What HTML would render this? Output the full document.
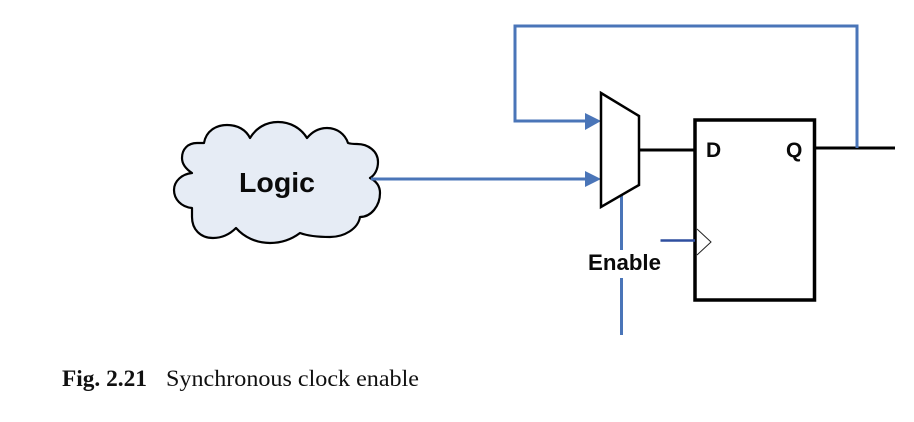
<!DOCTYPE html>
<html>
<head>
<meta charset="utf-8">
<style>
html,body{margin:0;padding:0;background:#fff;width:914px;height:422px;overflow:hidden}
svg{display:block}
.s{font-family:"Liberation Sans",sans-serif;font-weight:bold;fill:#0a0a0a}
.r{font-family:"Liberation Serif",serif;fill:#111}
</style>
</head>
<body>
<svg width="914" height="422" viewBox="0 0 914 422" xmlns="http://www.w3.org/2000/svg">
<path d="M204 143 C206 131 216 125 227 125 C238 125 246 130 250 138 C256 128 266 122 278 122 C290 122 301 128 307 138 C312 132 319 128 327 128 C337 128 345 134 348 143 C351 144 354 144 357 144 C368 144 378 151 378 162 C378 169 375 175 370 178 C376 181 380 186 380 193 C380 206 371 217 360 217 C358 229 344 237 330 237 C318 237 308 236 300 233 C292 239 282 243 270 243 C256 243 244 237 236 228 C230 234 222 238 213 238 C200 238 192 229 192 217 L192 208 C181 207 174 199 174 190 C174 181 182 174 192 173 C186 169 182 164 182 158 C182 149 188 143 197 143 C199 143 202 143 204 143 Z" fill="#e6ecf5" stroke="#000" stroke-width="2.2" stroke-linejoin="round"/>
<text class="s" x="239" y="192" font-size="27.500" textLength="76" lengthAdjust="spacingAndGlyphs">Logic</text>

<g fill="none" stroke="#4a75b8" stroke-width="3">
<path d="M857 148 V26 H515 V121 H586"/>
<path d="M371 179 H586"/>
<path d="M621.5 195 V250"/>
<path d="M621.5 278 V335"/>
</g>
<polygon points="585,113 601,121 585,130" fill="#4a75b8"/>
<polygon points="585,171 601,179 585,187" fill="#4a75b8"/>

<polygon points="601,93 639,116 639,185 601,207" fill="none" stroke="#000" stroke-width="2.500"/>
<path d="M638 150 H694" stroke="#000" stroke-width="3" fill="none"/>
<rect x="695" y="120" width="119.500" height="180" fill="#fff" stroke="#000" stroke-width="3.500"/>
<path d="M815 148 H895" stroke="#000" stroke-width="3" fill="none"/>
<path d="M857 26 V148" stroke="#4a75b8" stroke-width="3" fill="none"/>

<path d="M660.500 240.500 H695" stroke="#2f4f9f" stroke-width="2.500" fill="none"/>
<path d="M697 229 L711 242 L697 255" stroke="#222" stroke-width="1" fill="none"/>

<text class="s" x="706" y="157" font-size="21">D</text>
<text class="s" x="786" y="157" font-size="21">Q</text>
<text class="s" x="588" y="270" font-size="22" textLength="73" lengthAdjust="spacingAndGlyphs">Enable</text>

<text class="r" x="62" y="386" font-size="23" font-weight="bold" textLength="85" lengthAdjust="spacingAndGlyphs">Fig. 2.21</text>
<text class="r" x="166" y="386" font-size="23" textLength="253" lengthAdjust="spacingAndGlyphs">Synchronous clock enable</text>
</svg>
</body>
</html>
